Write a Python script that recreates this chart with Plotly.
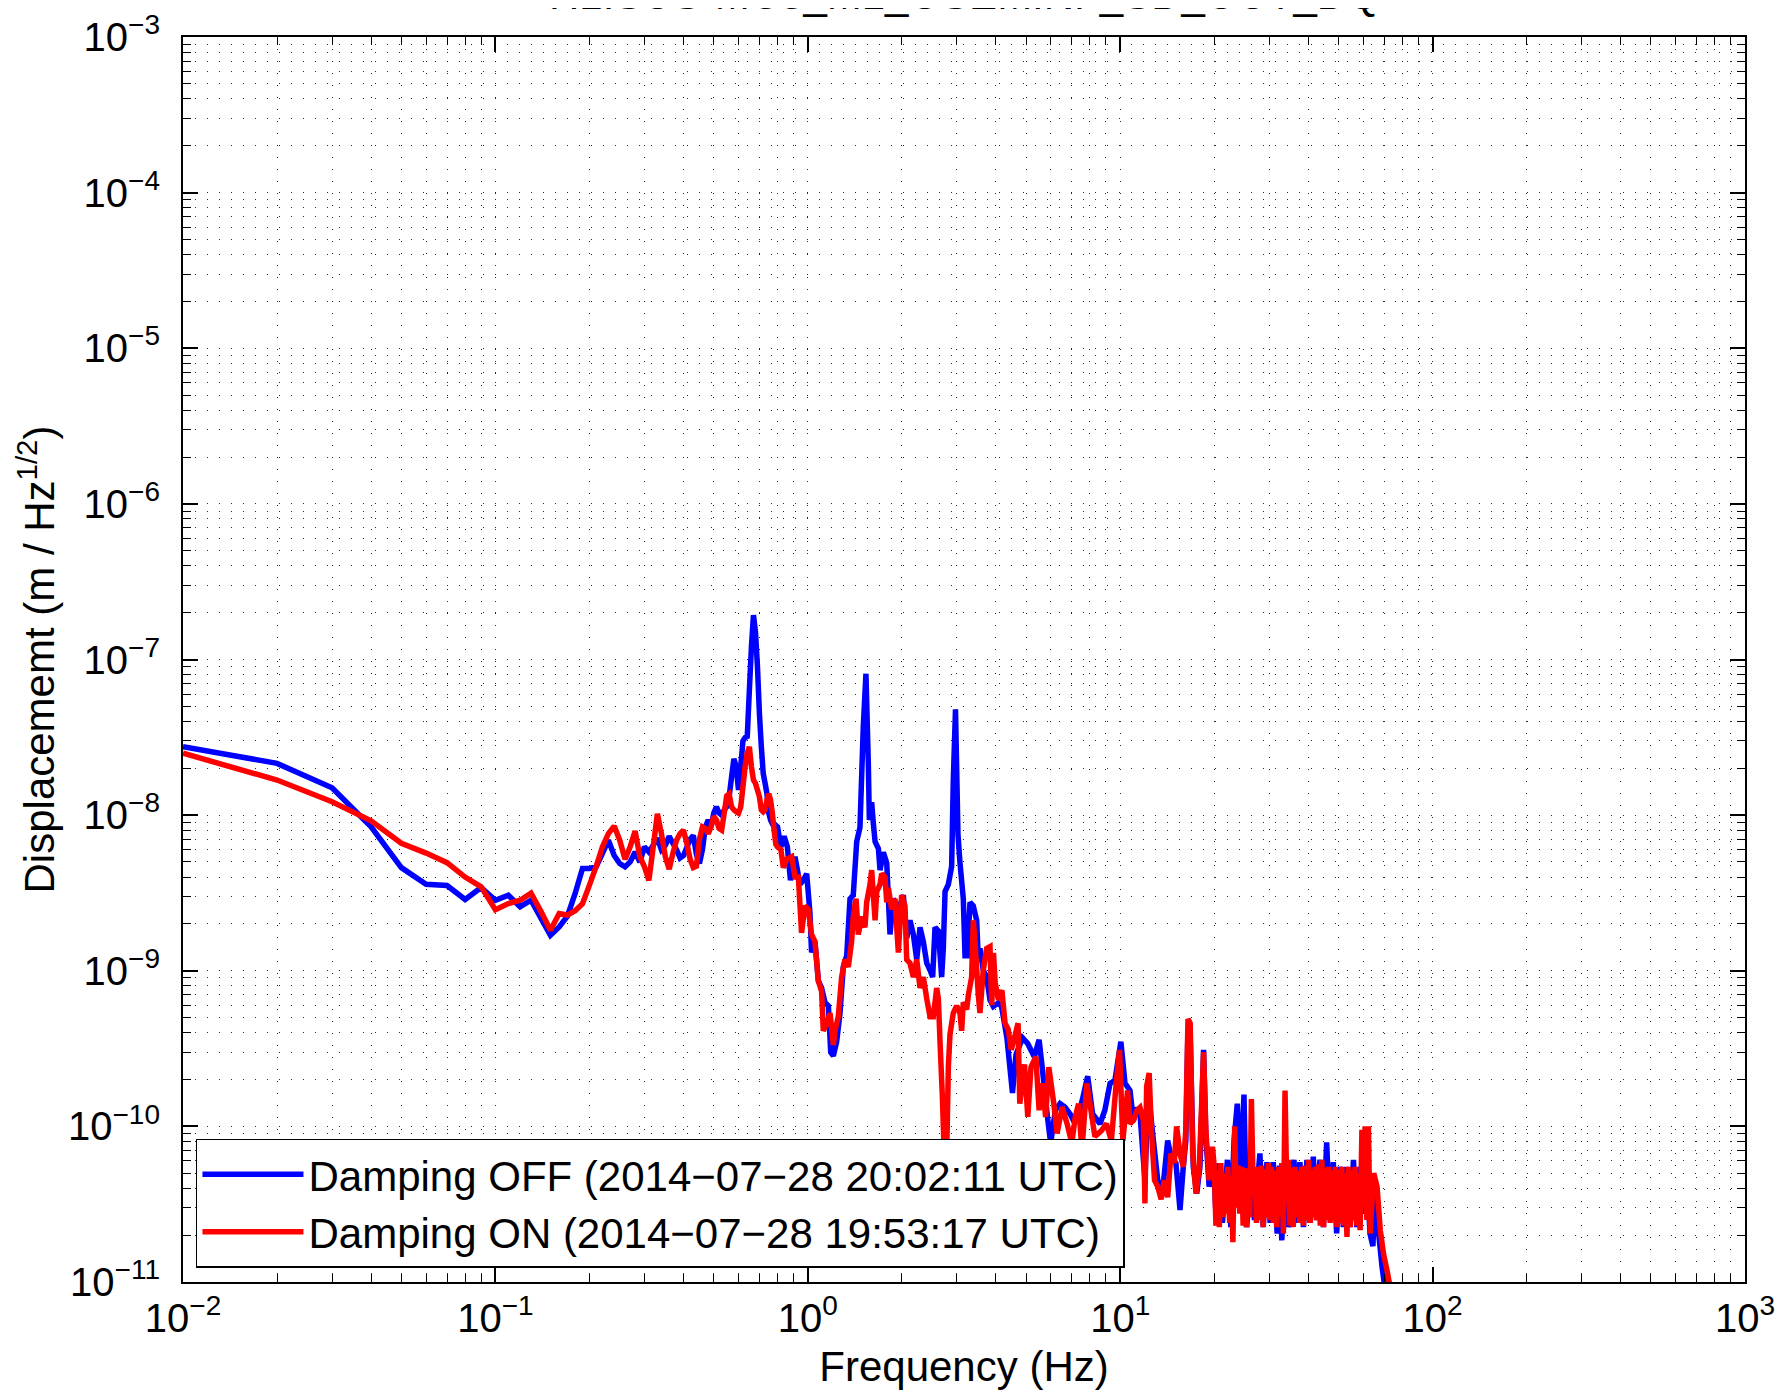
import plotly.graph_objects as go

title_text = "H1:SUS-MC3_M1_OSEMINF_SD_OUT_DQ"
x_title = "Frequency (Hz)"
y_title = "Displacememt (m / Hz<sup>1/2</sup>)"
off_name = "Damping OFF (2014\u221207\u221228 20:02:11 UTC)"
on_name = "Damping ON (2014\u221207\u221228 19:53:17 UTC)"

off_freq = [
    0.01, 0.02, 0.03, 0.04, 0.05, 0.06, 0.07, 0.08, 0.09, 0.10,
    0.11, 0.12, 0.13, 0.14, 0.15, 0.16, 0.17, 0.18, 0.19, 0.20,
    0.21, 0.22, 0.23, 0.24, 0.25, 0.26, 0.27, 0.28, 0.29, 0.30,
    0.31, 0.32, 0.33, 0.34, 0.35, 0.36, 0.37, 0.38, 0.39, 0.40,
    0.41, 0.42, 0.43, 0.44, 0.45, 0.46, 0.47, 0.48, 0.49, 0.50,
    0.51, 0.52, 0.53, 0.54, 0.55, 0.56, 0.57, 0.58, 0.59, 0.60,
    0.61, 0.62, 0.63, 0.64, 0.65, 0.66, 0.67, 0.68, 0.69, 0.70,
    0.71, 0.72, 0.73, 0.74, 0.75, 0.76, 0.77, 0.78, 0.80, 0.82,
    0.84, 0.86, 0.88, 0.91, 0.944, 0.967, 0.992, 1.016, 1.028, 1.054,
    1.081, 1.107, 1.135, 1.164, 1.184, 1.207, 1.237, 1.268, 1.299, 1.332,
    1.365, 1.398, 1.434, 1.469, 1.505, 1.535, 1.562, 1.574, 1.601, 1.621,
    1.642, 1.683, 1.703, 1.745, 1.789, 1.833, 1.878, 1.925, 1.973, 2.022,
    2.073, 2.124, 2.177, 2.232, 2.287, 2.343, 2.403, 2.462, 2.51, 2.554,
    2.618, 2.682, 2.715, 2.75, 2.818, 2.887, 2.922, 2.97, 3.025, 3.07,
    3.146, 3.186, 3.24, 3.305, 3.386, 3.472, 3.514, 3.557, 3.645, 3.738,
    3.83, 3.925, 4.07, 4.17, 4.34, 4.52, 4.64, 4.87, 5.06, 5.31,
    5.5, 5.64, 5.85, 5.99, 6.2, 6.42, 6.65, 6.91, 7.07, 7.33,
    7.6, 7.87, 8.16, 8.62, 8.93, 9.28, 9.62, 10.05, 10.36, 10.75,
    11.02, 11.3, 11.57, 12.0, 12.3, 12.73, 13.19, 13.68, 14.19, 14.54,
    15.08, 15.54, 15.92, 16.22, 16.48, 16.75, 17.14, 17.58, 18.0, 18.49,
    18.8, 19.26, 19.98, 20.2, 20.73, 21.24, 22.04, 22.6, 23.14, 23.7,
    24.3, 24.9, 25.4, 26.3, 26.9, 28.0, 28.7, 29.5, 30.2, 30.9,
    31.8, 32.4, 32.9, 33.8, 34.6, 36.0, 36.7, 37.6, 38.6, 39.6, 40.5,
    41.5, 42.5, 43.6, 44.7, 45.8, 46.9, 48.1, 49.3, 50.5, 51.8,
    53.1, 54.4, 55.8, 57.2, 58.6, 60.1, 61.6, 63.0, 64.4, 65.6,
    67.2, 68.9, 71.0,
]
off_amp = [
    2.75e-8, 2.15e-8, 1.5e-8, 8.4e-9, 4.6e-9, 3.6e-9, 3.53e-9, 2.87e-9, 3.43e-9, 2.84e-9,
    3.06e-9, 2.58e-9, 2.84e-9, 2.17e-9, 1.69e-9, 1.91e-9, 2.24e-9, 3.14e-9, 4.54e-9, 4.54e-9,
    4.65e-9, 5.67e-9, 6.9e-9, 5.5e-9, 4.89e-9, 4.65e-9, 5.0e-9, 5.8e-9, 5.0e-9, 6.25e-9,
    5.8e-9, 6.4e-9, 7.1e-9, 6.0e-9, 6.4e-9, 7.3e-9, 6.6e-9, 6.0e-9, 5.3e-9, 5.5e-9,
    6.2e-9, 7.0e-9, 7.4e-9, 5.6e-9, 4.9e-9, 6.0e-9, 8.4e-9, 9.3e-9, 8.4e-9, 1.03e-8,
    1.13e-8, 1.03e-8, 1.0e-8, 1.08e-8, 1.13e-8, 1.31e-8, 1.75e-8, 2.3e-8, 2.05e-8, 1.45e-8,
    2.05e-8, 3.0e-8, 3.15e-8, 3.2e-8, 6.3e-8, 1.21e-7, 1.93e-7, 1.5e-7, 9.0e-8, 4.5e-8,
    2.75e-8, 1.85e-8, 1.6e-8, 1.37e-8, 1.03e-8, 9.3e-9, 8.8e-9, 8.8e-9, 8.4e-9, 6.25e-9,
    7.3e-9, 6.25e-9, 3.82e-9, 5.4e-9, 3.6e-9, 3.8e-9, 4.2e-9, 2.35e-9, 1.31e-9, 1.54e-9,
    8.6e-10, 7.75e-10, 6.27e-10, 5.95e-10, 2.99e-10, 2.84e-10, 3.5e-10, 5.35e-10, 1.06e-9, 1.25e-9,
    2.9e-9, 3.06e-9, 6.76e-9, 8.35e-9, 3.67e-8, 8.1e-8, 2.16e-8, 9.3e-9, 1.21e-8, 8.8e-9,
    6.76e-9, 6.08e-9, 4.43e-9, 5.77e-9, 4.93e-9, 1.71e-9, 2.9e-9, 2.61e-9, 2.61e-9, 3.06e-9,
    1.62e-9, 2.11e-9, 1.71e-9, 1.18e-9, 1.9e-9, 1.54e-9, 1.12e-9, 1.01e-9, 9.1e-10, 1.9e-9,
    1.8e-9, 9.1e-10, 1.39e-9, 3.23e-9, 3.59e-9, 4.67e-9, 1.66e-8, 4.78e-8, 7.5e-9, 4.93e-9,
    2.9e-9, 1.25e-9, 1.25e-9, 2.75e-9, 2.61e-9, 2.11e-9, 1.18e-9, 1.39e-9, 1.01e-9, 9.1e-10,
    6.5e-10, 5.9e-10, 6.2e-10, 5.9e-10, 3.7e-10, 1.64e-10, 2.9e-10, 3.7e-10, 3.4e-10, 2.8e-10,
    3.6e-10, 2.3e-10, 1.15e-10, 7.8e-11, 1.27e-10, 1.4e-10, 1.33e-10, 1.2e-10, 1.1e-10, 1.15e-10,
    1.54e-10, 2.1e-10, 1.2e-10, 1.04e-10, 1.27e-10, 1.89e-10, 1.98e-10, 3.5e-10, 1.89e-10, 1.7e-10,
    1.09e-10, 1.32e-10, 1.2e-10, 4.5e-11, 1.7e-10, 8.6e-11, 4.5e-11, 3.9e-11, 8.1e-11, 6.4e-11,
    5.8e-11, 2.9e-11, 5.5e-11, 8.1e-11, 4.3e-10, 3.9e-10, 5.5e-11, 3.7e-11, 5.5e-11, 3.1e-10,
    8.6e-11, 4.1e-11, 5.5e-11, 3.0e-11, 5.8e-11, 2.4e-11, 6.1e-11, 2.25e-11, 8.1e-11, 1.4e-10,
    4.5e-11, 1.6e-10, 2.25e-11, 5.5e-11, 2.5e-11, 6.7e-11, 2.25e-11, 5.9e-11, 2.4e-11, 5.9e-11,
    2.05e-11, 5.6e-11, 1.85e-11, 6.1e-11, 2.25e-11, 6.1e-11, 2.4e-11, 5.9e-11, 2.25e-11, 6.1e-11, 2.4e-11,
    6.4e-11, 2.5e-11, 6.1e-11, 2.25e-11, 7.9e-11, 2.5e-11, 5.9e-11, 2.05e-11, 5.5e-11, 2.25e-11,
    5.5e-11, 2.25e-11, 6.1e-11, 2.25e-11, 5.5e-11, 2.75e-11, 5.5e-11, 2.05e-11, 1.7e-11, 4.1e-11,
    2.05e-11, 1.25e-11, 8e-12,
]

on_freq = [
    0.01, 0.02, 0.03, 0.04, 0.05, 0.06, 0.07, 0.08, 0.09, 0.10,
    0.11, 0.12, 0.13, 0.14, 0.15, 0.16, 0.17, 0.18, 0.19, 0.20,
    0.21, 0.22, 0.23, 0.24, 0.25, 0.26, 0.27, 0.28, 0.29, 0.30,
    0.31, 0.32, 0.33, 0.34, 0.35, 0.36, 0.37, 0.38, 0.39, 0.40,
    0.41, 0.42, 0.43, 0.44, 0.45, 0.46, 0.47, 0.48, 0.49, 0.50,
    0.51, 0.52, 0.53, 0.54, 0.55, 0.56, 0.57, 0.58, 0.59, 0.60,
    0.61, 0.62, 0.63, 0.64, 0.65, 0.66, 0.67, 0.68, 0.69, 0.70,
    0.71, 0.72, 0.73, 0.74, 0.75, 0.76, 0.77, 0.78, 0.79, 0.80,
    0.82, 0.835, 0.856, 0.888, 0.91, 0.933, 0.955, 0.979, 1.004, 1.028,
    1.054, 1.081, 1.107, 1.121, 1.15, 1.178, 1.207, 1.222, 1.252, 1.283,
    1.315, 1.348, 1.381, 1.398, 1.427, 1.451, 1.487, 1.524, 1.543, 1.582,
    1.601, 1.642, 1.662, 1.703, 1.724, 1.767, 1.789, 1.811, 1.856, 1.901,
    1.949, 1.997, 2.047, 2.073, 2.124, 2.177, 2.232, 2.287, 2.343, 2.403,
    2.462, 2.522, 2.586, 2.618, 2.65, 2.695, 2.73, 2.784, 2.818, 2.852,
    2.922, 2.996, 3.07, 3.108, 3.146, 3.226, 3.265, 3.345, 3.386, 3.429,
    3.514, 3.557, 3.645, 3.738, 3.83, 3.88, 3.93, 3.98, 4.08, 4.18,
    4.28, 4.38, 4.48, 4.6, 4.71, 4.77, 4.94, 5.06, 5.18, 5.37,
    5.5, 5.64, 5.77, 5.91, 6.13, 6.28, 6.52, 6.76, 7.0, 7.18,
    7.36, 7.54, 7.82, 8.0, 8.3, 8.71, 9.03, 9.37, 9.71, 9.95,
    10.2, 10.56, 10.75, 11.02, 11.3, 11.57, 11.86, 12.0, 12.15, 12.38,
    12.58, 12.88, 13.19, 13.52, 13.85, 14.19, 14.54, 14.9, 15.15, 15.54,
    15.92, 16.22, 16.48, 16.75, 17.06, 17.48, 17.91, 18.49, 18.8, 19.26,
    19.74,
    20.0, 20.25, 20.5, 20.76, 21.0, 21.3, 21.55, 21.8, 22.1, 22.4,
    22.7, 22.95, 23.25, 23.55, 23.85, 24.15, 24.45, 24.75, 25.05, 25.35,
    25.7, 26.0, 26.3, 26.65, 27.0, 27.3, 27.65, 28.0, 28.35, 28.7,
    29.05, 29.4, 29.8, 30.15, 30.5, 30.9, 31.3, 31.7, 32.1, 32.5,
    32.9, 33.3, 33.7, 34.1, 34.5, 34.95, 35.4, 35.8, 36.3, 36.7,
    37.2, 37.6, 38.1, 38.6, 39.1, 39.6, 40.1, 40.6, 41.1, 41.6,
    42.1, 42.6, 43.1, 43.7, 44.2, 44.8, 45.3, 45.9, 46.5, 47.0,
    47.6, 48.2, 48.8, 49.4, 50.0, 50.6, 51.2, 51.9, 52.5, 53.2,
    53.8, 54.5, 55.2, 55.8, 56.5, 57.2, 57.9, 58.6, 59.4, 60.1,
    60.8, 61.6, 62.3, 63.1,
    64.8, 66.4, 68.0, 69.7, 71.4, 74.1,
]
on_amp = [
    2.5e-8, 1.68e-8, 1.22e-8, 9.2e-9, 6.6e-9, 5.7e-9, 4.95e-9, 4.0e-9, 3.46e-9, 2.47e-9,
    2.7e-9, 2.84e-9, 3.15e-9, 2.4e-9, 1.82e-9, 2.33e-9, 2.28e-9, 2.43e-9, 2.7e-9, 3.55e-9,
    4.66e-9, 6.25e-9, 7.6e-9, 8.5e-9, 6.9e-9, 5.2e-9, 6.25e-9, 7.9e-9, 5.4e-9, 4.66e-9,
    3.8e-9, 6.25e-9, 1.02e-8, 7.6e-9, 5.4e-9, 4.5e-9, 5.7e-9, 6.9e-9, 7.6e-9, 8.0e-9,
    6.6e-9, 5.2e-9, 4.6e-9, 4.7e-9, 7.0e-9, 8.4e-9, 8.2e-9, 7.6e-9, 8.4e-9, 9.8e-9,
    9.3e-9, 8.2e-9, 8.0e-9, 1.03e-8, 1.33e-8, 1.37e-8, 1.13e-8, 1.08e-8, 1.05e-8, 1.03e-8,
    1.13e-8, 1.52e-8, 2.05e-8, 2.5e-8, 2.75e-8, 2.05e-8, 1.68e-8, 1.6e-8, 1.45e-8, 1.31e-8,
    1.08e-8, 1.05e-8, 1.08e-8, 1.25e-8, 1.37e-8, 1.25e-8, 1.03e-8, 8.0e-9, 6.5e-9, 6.25e-9,
    6.0e-9, 4.6e-9, 5.2e-9, 5.4e-9, 4.0e-9, 4.0e-9, 1.75e-9, 2.61e-9, 2.48e-9, 1.71e-9,
    1.54e-9, 8.6e-10, 7.35e-10, 4.11e-10, 4.56e-10, 5.35e-10, 3.33e-10, 4.11e-10, 5.07e-10, 9.1e-10,
    1.18e-9, 1.06e-9, 1.54e-9, 2.23e-9, 2.9e-9, 1.71e-9, 2.23e-9, 1.9e-9, 2.75e-9, 3.59e-9,
    4.43e-9, 2.11e-9, 3.23e-9, 3.59e-9, 4.2e-9, 3.99e-9, 2.75e-9, 3.4e-9, 2.48e-9, 2.9e-9,
    1.31e-9, 3.06e-9, 2.61e-9, 1.18e-9, 1.12e-9, 9.1e-10, 1.18e-9, 7.75e-10, 9.1e-10, 6.61e-10,
    5.07e-10, 5.07e-10, 7.75e-10, 6.61e-10, 3.5e-10, 1.59e-10, 7.2e-11, 6.8e-11, 2.42e-10, 3.9e-10,
    5.35e-10, 5.95e-10, 5.35e-10, 4.11e-10, 6.27e-10, 5.64e-10, 6.97e-10, 9.1e-10, 2.11e-9, 1.54e-9,
    6.97e-10, 5.35e-10, 1.01e-9, 1.39e-9, 1.43e-9, 6.0e-10, 1.3e-9, 8.3e-10, 6.5e-10, 7.5e-10,
    4.6e-10, 4.2e-10, 3.1e-10, 3.8e-10, 4.6e-10, 1.4e-10, 2.5e-10, 1.15e-10, 2.4e-10, 2.8e-10,
    1.27e-10, 1.89e-10, 1.15e-10, 2.4e-10, 1.4e-10, 9.0e-11, 1.33e-10, 1.04e-10, 7.8e-11, 1.15e-10,
    1.4e-10, 7.0e-11, 1.89e-10, 1.4e-10, 8.6e-11, 9.4e-11, 1.04e-10, 8.1e-11, 1.89e-10, 3.1e-10,
    8.1e-11, 1.7e-10, 1.04e-10, 1.09e-10, 1.26e-10, 1.32e-10, 1.09e-10, 3.2e-11, 1.8e-10, 2.2e-10,
    9.5e-11, 4.5e-11, 4.1e-11, 3.4e-11, 4.5e-11, 3.5e-11, 6.7e-11, 5.8e-11, 1.0e-10, 6.7e-11,
    5.5e-11, 9.5e-11, 4.9e-10, 4.6e-10, 6.7e-11, 3.7e-11, 5.5e-11, 3.0e-10, 9.5e-11, 4.5e-11,
    7.4e-11,
    5.5e-11, 2.3e-11, 5.2e-11, 2.25e-11, 5.8e-11, 2.6e-11, 5.0e-11, 2.75e-11, 5.5e-11, 2.4e-11,
    4.8e-11, 1.8e-11, 1.0e-10, 3.0e-11, 5.6e-11, 2.75e-11, 5.5e-11, 2.3e-11, 5.4e-11, 2.25e-11,
    5.0e-11, 2.6e-11, 1.5e-10, 4.0e-11, 5.2e-11, 2.4e-11, 5.5e-11, 2.5e-11, 5.6e-11, 2.25e-11,
    5.3e-11, 2.6e-11, 5.8e-11, 2.5e-11, 5.5e-11, 2.4e-11, 5.2e-11, 2.25e-11, 5.5e-11, 2.6e-11,
    5.8e-11, 2.05e-11, 1.7e-10, 4.5e-11, 6.1e-11, 2.3e-11, 5.4e-11, 2.25e-11, 5.5e-11, 2.6e-11,
    5.2e-11, 2.4e-11, 5.5e-11, 2.3e-11, 5.6e-11, 2.5e-11, 6.1e-11, 2.4e-11, 5.3e-11, 2.6e-11,
    5.5e-11, 2.5e-11, 5.7e-11, 2.3e-11, 6.1e-11, 2.25e-11, 5.4e-11, 2.5e-11, 5.5e-11, 2.4e-11,
    5.2e-11, 2.6e-11, 5.5e-11, 2.25e-11, 5.3e-11, 2.4e-11, 5.5e-11, 2.3e-11, 5.0e-11, 1.95e-11,
    5.5e-11, 2.25e-11, 5.2e-11, 2.5e-11, 5.5e-11, 2.3e-11, 5.0e-11, 2.15e-11, 9.5e-11, 3.0e-11,
    1.0e-10, 2.5e-11, 1.0e-10, 2.05e-11,
    5.0e-11, 4.1e-11, 2.15e-11, 1.5e-11, 1.2e-11, 8e-12,
]

x_tick_vals = [1e-2, 1e-1, 1e0, 1e1, 1e2, 1e3]
x_tick_text = ["10<sup>\u22122</sup>", "10<sup>\u22121</sup>", "10<sup>0</sup>",
               "10<sup>1</sup>", "10<sup>2</sup>", "10<sup>3</sup>"]
y_tick_vals = [1e-11, 1e-10, 1e-9, 1e-8, 1e-7, 1e-6, 1e-5, 1e-4, 1e-3]
y_tick_text = ["10<sup>\u2212%d</sup>" % k for k in (11, 10, 9, 8, 7, 6, 5, 4, 3)]
x_minor = [m * 10.0 ** k for k in range(-2, 3) for m in range(2, 10)]
y_minor = [m * 10.0 ** k for k in range(-11, -3) for m in range(2, 10)]

FONT = "Liberation Sans, Arial, Helvetica, sans-serif"
LINE_W = 5.5

fig = go.Figure()
fig.add_trace(go.Scatter(x=off_freq, y=off_amp, mode="lines", name=off_name,
                         line=dict(color="#0000ff", width=LINE_W, simplify=False)))
fig.add_trace(go.Scatter(x=on_freq, y=on_amp, mode="lines", name=on_name,
                         line=dict(color="#ff0000", width=LINE_W, simplify=False)))

grid_dash = "1px,11px"
grid_col = "rgba(0,0,0,0.85)"
axis_common = dict(
    type="log",
    showline=True, linecolor="black", linewidth=2, mirror="ticks",
    ticks="inside", ticklen=15, tickwidth=1.5, tickcolor="black",
    showgrid=True, gridcolor=grid_col, gridwidth=1, griddash=grid_dash,
    zeroline=False,
    tickfont=dict(family=FONT, size=40, color="black"),
)

fig.update_xaxes(
    range=[-2, 3], tickmode="array", tickvals=x_tick_vals, ticktext=x_tick_text,
    minor=dict(tickmode="array", tickvals=x_minor, ticks="inside", ticklen=8,
               tickwidth=1.2, tickcolor="black", showgrid=True,
               gridcolor=grid_col, gridwidth=1, griddash=grid_dash),
    title=dict(text=x_title, font=dict(family=FONT, size=42, color="black"), standoff=18),
    ticklabelstandoff=0,
    **axis_common,
)
fig.update_yaxes(
    range=[-11, -3], tickmode="array", tickvals=y_tick_vals, ticktext=y_tick_text,
    minor=dict(tickmode="array", tickvals=y_minor, ticks="inside", ticklen=8,
               tickwidth=1.2, tickcolor="black", showgrid=True,
               gridcolor=grid_col, gridwidth=1, griddash=grid_dash),
    title=dict(text=y_title, font=dict(family=FONT, size=42, color="black"), standoff=0),
    ticklabelstandoff=13,
    **axis_common,
)

fig.add_annotation(text=title_text, xref="paper", yref="paper", x=0.5, y=1.0,
                   xanchor="center", yanchor="bottom", yshift=17, showarrow=False,
                   font=dict(family=FONT, size=42, color="black"))

fig.update_layout(
    width=1775, height=1382,
    margin=dict(l=175, r=38, t=29, b=108, autoexpand=False),
    paper_bgcolor="white", plot_bgcolor="white",
    font=dict(family=FONT, size=40, color="black"),
    showlegend=True,
    legend=dict(x=0.0083, y=0.0113, xanchor="left", yanchor="bottom",
                bgcolor="white", bordercolor="black", borderwidth=1.5,
                font=dict(family=FONT, size=42, color="black"),
                itemwidth=101, tracegroupgap=0),
    hovermode=False,
)

fig.write_html("out.html")
